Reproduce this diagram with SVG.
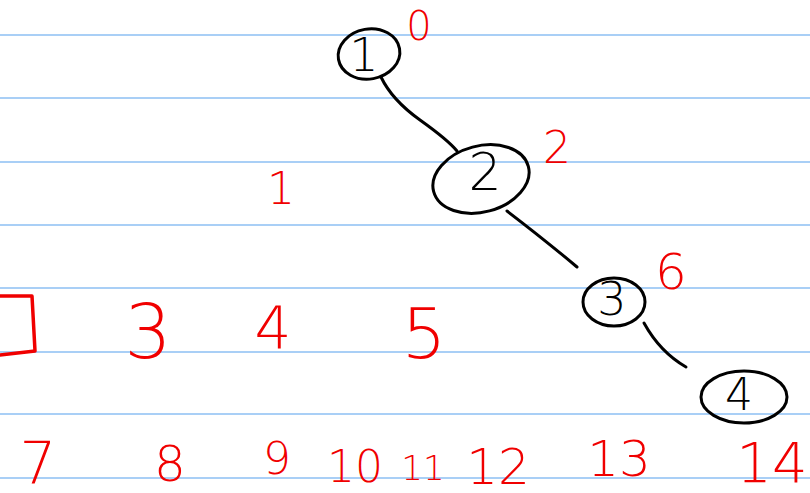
<svg xmlns="http://www.w3.org/2000/svg" width="810" height="493" viewBox="0 0 810 493">
  <style>
    .rule { stroke: #a9cff6; stroke-width: 2; }
    .ring { fill: none; stroke: #000; stroke-width: 3; }
    .edge { fill: none; stroke: #000; stroke-width: 3; stroke-linecap: round; }
    .ink { fill: #000; font-family: "DejaVu Sans", "Liberation Sans", sans-serif; font-weight: 200; text-anchor: middle; }
    .red { fill: #f00000; font-family: "DejaVu Sans", "Liberation Sans", sans-serif; font-weight: 200; text-anchor: middle; }
    .redline { fill: none; stroke: #f00000; stroke-width: 3.5; stroke-linecap: round; stroke-linejoin: round; }
  </style>
  <rect width="810" height="493" fill="#fff"/>

  <!-- ruled paper -->
  <g id="rules">
    <line class="rule" x1="0" y1="35" x2="810" y2="35"/>
    <line class="rule" x1="0" y1="98" x2="810" y2="98"/>
    <line class="rule" x1="0" y1="162" x2="810" y2="162"/>
    <line class="rule" x1="0" y1="225" x2="810" y2="225"/>
    <line class="rule" x1="0" y1="288" x2="810" y2="288"/>
    <line class="rule" x1="0" y1="352" x2="810" y2="352"/>
    <line class="rule" x1="0" y1="414" x2="810" y2="414"/>
    <line class="rule" x1="0" y1="478" x2="810" y2="478"/>
  </g>

  <!-- tree edges -->
  <g id="connectors">
    <path class="edge" d="M381,77 Q392,100 420,120 Q448,140 457,151"/>
    <path class="edge" d="M507,211 Q545,240 577,267"/>
    <path class="edge" d="M644,323 Q660,352 686,367"/>
  </g>

  <!-- tree nodes -->
  <g id="node-1">
    <ellipse class="ring" cx="369" cy="54" rx="31" ry="25" transform="rotate(-10 369 54)"/>
    <text class="ink" x="364" y="71" font-size="46">1</text>
  </g>
  <g id="node-2">
    <ellipse class="ring" cx="481" cy="179" rx="49" ry="33" transform="rotate(-15 481 179)"/>
    <text class="ink" x="485" y="190" font-size="52">2</text>
  </g>
  <g id="node-3">
    <ellipse class="ring" cx="614" cy="302" rx="31" ry="24"/>
    <text class="ink" x="612" y="315" font-size="46">3</text>
  </g>
  <g id="node-4">
    <ellipse class="ring" cx="744" cy="397" rx="43" ry="26"/>
    <text class="ink" x="739" y="410" font-size="44">4</text>
  </g>

  <!-- red annotations beside the nodes -->
  <g id="label-0"><text class="red" x="419" y="40" font-size="40">0</text></g>
  <g id="label-2"><text class="red" x="557" y="163" font-size="44">2</text></g>
  <g id="label-6"><text class="red" x="671" y="289" font-size="50">6</text></g>
  <g id="label-1"><text class="red" x="281" y="204" font-size="44">1</text></g>

  <!-- red row: box and 3 4 5 -->
  <g id="box">
    <path class="redline" d="M0,296 L32,296 L35,351 L0,355"/>
  </g>
  <g id="row-3"><text class="red" x="148" y="358" font-size="74">3</text></g>
  <g id="row-4"><text class="red" x="273" y="348" font-size="58">4</text></g>
  <g id="row-5"><text class="red" x="424" y="358" font-size="70">5</text></g>

  <!-- red row: 7 .. 14 -->
  <g id="row-7"><text class="red" x="38" y="484" font-size="58">7</text></g>
  <g id="row-8"><text class="red" x="170" y="481" font-size="50">8</text></g>
  <g id="row-9"><text class="red" x="277" y="474" font-size="44">9</text></g>
  <g id="row-10"><text class="red" x="355" y="482" font-size="44">10</text></g>
  <g id="row-11"><text class="red" x="423" y="480" font-size="34">11</text></g>
  <g id="row-12"><text class="red" x="498" y="484" font-size="50">12</text></g>
  <g id="row-13"><text class="red" x="619" y="476" font-size="50">13</text></g>
  <g id="row-14"><text class="red" x="772" y="482" font-size="56">14</text></g>
</svg>
